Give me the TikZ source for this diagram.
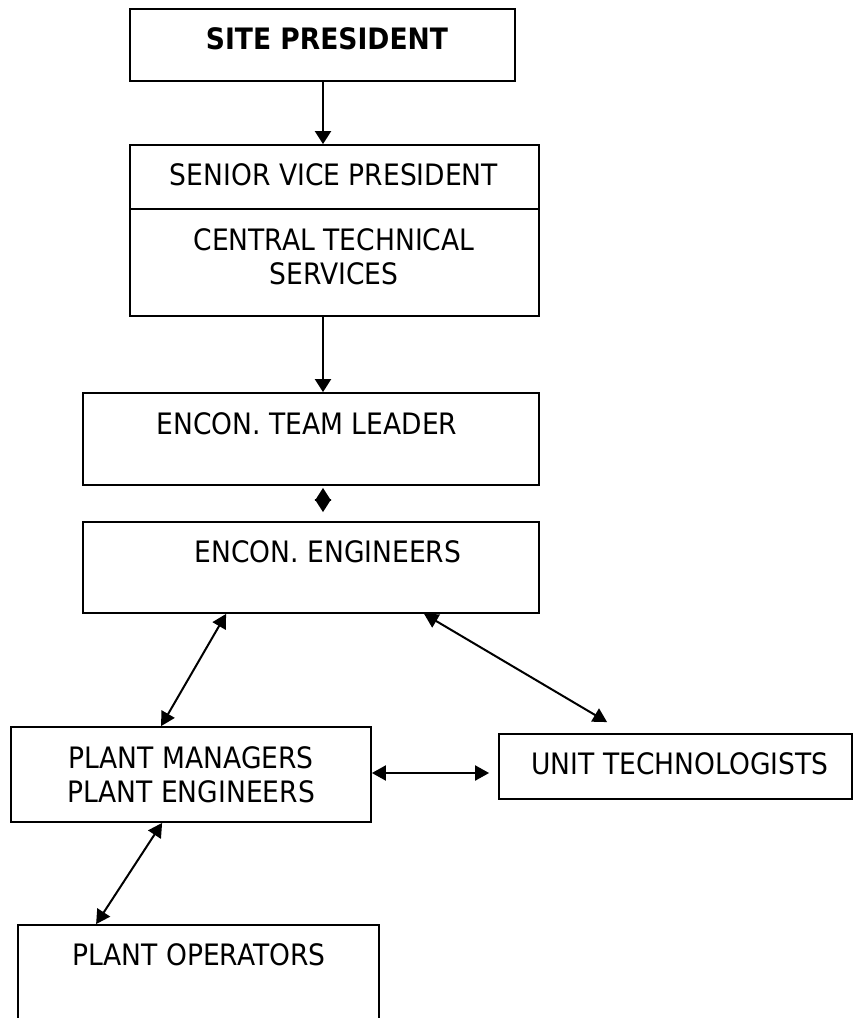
\documentclass[tikz,border=0pt]{standalone}
\usepackage{fontspec}
\setmainfont{DejaVu Sans}[FakeStretch=0.9]
\usetikzlibrary{arrows.meta}
\begin{document}
\begin{tikzpicture}[x=1pt,y=-1pt,
  box/.style={draw=black,line width=1.8pt,inner sep=0pt,minimum width=#1},
  lbl/.style={font=\fontsize{29.5}{35}\selectfont,inner sep=0pt,anchor=base},
  lbl2/.style={font=\fontsize{29.5}{34.5}\selectfont,inner sep=0pt,anchor=north,align=center},
  link/.style={line width=2pt,{Triangle[length=14pt,width=15pt]}-{Triangle[length=14pt,width=15pt]}},
  down/.style={line width=2pt,-{Triangle[length=13pt,width=16pt]}},
  dia/.style={line width=2pt,{Triangle[length=13pt,width=16pt]}-{Triangle[length=13pt,width=16pt]}}]
\useasboundingbox (0,0) rectangle (854,1018);
\clip (0,0) rectangle (854,1018);
\fill[white] (0,0) rectangle (854,1018);
% boxes
\node[box=385pt,minimum height=72pt] (b1) at (322.5,45) {};
\node[box=409pt,minimum height=171pt] (b2) at (334.5,230.5) {};
\node[box=456pt,minimum height=92pt] (b3) at (311,439) {};
\node[box=456pt,minimum height=91pt] (b4) at (311,567.5) {};
\node[box=360pt,minimum height=95pt] (b5) at (191,774.5) {};
\node[box=353pt,minimum height=65pt] (b6) at (675.5,766.5) {};
\node[box=361pt,minimum height=110pt] (b7) at (198.5,980) {};
\draw[line width=1.8pt] (b2.west |- 0,209) -- (b2.east |- 0,209);
% texts
\node[lbl,font=\fontsize{29.5}{35}\selectfont\bfseries] (t1) at (327,49) {SITE PRESIDENT};
\node[lbl] (t2) at (334,185) {SENIOR VICE PRESIDENT};
\node[lbl2] (t3) at (334,228) {CENTRAL TECHNICAL\\SERVICES};
\node[lbl] (t4) at (307,434) {ENCON. TEAM LEADER};
\node[lbl] (t5) at (328,562) {ENCON. ENGINEERS};
\node[lbl2] (t6) at (191,746) {PLANT MANAGERS\\PLANT ENGINEERS};
\node[lbl] (t7) at (680,774) {UNIT TECHNOLOGISTS};
\node[lbl] (t8) at (199,965) {PLANT OPERATORS};
% connectors
\coordinate (c1) at (323,0);
\draw[down] (b1.south -| c1) -- (b2.north -| c1);
\draw[down] (b2.south -| c1) -- (b3.north -| c1);
\draw[dia,shorten <=2pt,shorten >=9pt] (b3.south -| c1) -- (b4.north -| c1);
\draw[link] ([xshift=144pt]b4.south west) -- ([xshift=151pt]b5.north west);
\draw[link] ([xshift=342pt]b4.south west) -- ([xshift=109pt,yshift=11pt]b6.north west);
\draw[link] (b5.east |- 0,773) -- ([xshift=-9pt]b6.west |- 0,773);
\draw[link] ([xshift=152pt]b5.south west) -- ([xshift=79pt]b7.north west);
\end{tikzpicture}
\end{document}
